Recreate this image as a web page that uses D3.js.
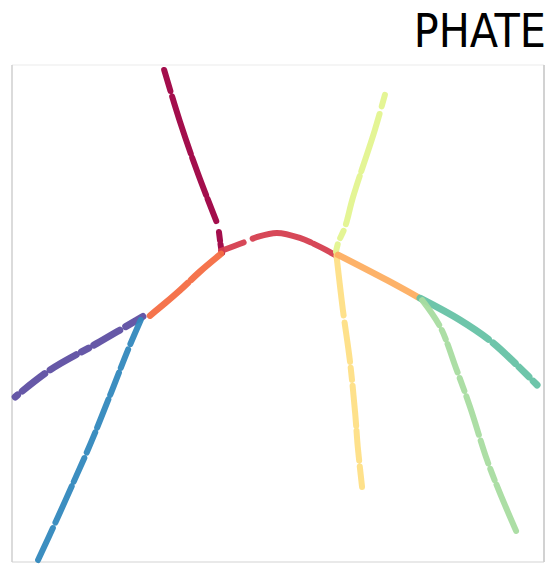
<!DOCTYPE html>
<html>
<head>
<meta charset="utf-8">
<script src="https://cdn.jsdelivr.net/npm/d3@7"></script>
<style>
  body { margin: 0; background: #fff; }
  svg { display: block; }
</style>
</head>
<body>
<div id="chart"></div>
<script>
/* CONSTANTS AND GLOBALS */
const width = 546,
  height = 565,
  plot = { left: 12, right: 544, top: 65, bottom: 562 };

// branch knots, PHATE coords rescaled to 0..100
const crimson = [[28.6, 99.0], [31.6, 88.5], [35.0, 78.0], [38.4, 68.6]];
const crimsonStub = [[38.9, 66.4], [39.3, 63.2], [39.5, 62.2]];
const red = [[39.3, 62.6], [43.8, 64.4], [46.1, 65.4], [49.8, 66.2], [54.1, 65.2], [57.9, 63.4], [60.7, 61.8]];
const orange = [[39.3, 62.0], [35.3, 58.4], [31.6, 54.7], [28.8, 52.1], [25.4, 49.1]];
const purple = [[24.6, 49.4], [16.5, 44.3], [7.1, 38.6], [0.6, 33.2]];
const blue = [[24.2, 48.7], [21.8, 42.7], [18.6, 34.0], [14.8, 23.9], [11.5, 15.9], [8.4, 8.5], [4.9, 0.4]];
const limeGreen = [[70.1, 94.0], [68.2, 86.9], [64.1, 73.4], [62.6, 67.4], [61.3, 64.2], [60.9, 62.4]];
const yellow = [[61.0, 61.6], [62.2, 50.7], [63.5, 40.6], [64.5, 30.0], [65.0, 23.1], [65.8, 15.1]];
const lightOrange = [[61.3, 61.8], [70.5, 56.7], [76.3, 53.3]];
const teal = [[76.7, 53.1], [84.2, 48.7], [90.4, 44.1], [98.7, 35.6]];
const lightGreen = [[77.1, 52.7], [80.5, 47.3], [83.6, 38.6], [86.1, 31.2], [89.3, 20.5], [91.7, 13.9], [95.5, 4.4]];

const branches = [
  { name: "crimson", pts: crimson, color: "#9e0142", w: 6, dash: "22,6,60,4,40,4,30,4,40" },
  { name: "crimsonStub", pts: crimsonStub, color: "#9e0142", w: 6, dash: "9,3,40" },
  { name: "red", pts: red, color: "#d53e4f", w: 6, dash: "24,10,60,3,50" },
  { name: "orange", pts: orange, color: "#f46d43", w: 6.5, dash: "40,4,50,6,20" },
  { name: "purple", pts: purple, color: "#5e4fa2", w: 7, dash: "20,7,30,6,8,6,30,7,28,6,8,6,40" },
  { name: "blue", pts: blue, color: "#3288bd", w: 6, dash: "26,6,20,5,24,5,30,5,22,6,26,5,40,6,60" },
  { name: "lime", pts: limeGreen, color: "#e3f48f", w: 6, dash: "12,8,60,5,50,7,8,7,20" },
  { name: "yellow", pts: yellow, color: "#fedf85", w: 6, dash: "60,7,40,6,12,6,40,5,30,6,30" },
  { name: "lightOrange", pts: lightOrange, color: "#fdae61", w: 6.5, dash: "90" },
  { name: "teal", pts: teal, color: "#66c2a5", w: 7, dash: "80,6,30,5,14,6,20,6,10" },
  { name: "lightGreen", pts: lightGreen, color: "#a8dca0", w: 6, dash: "30,6,10,5,30,6,14,6,40,6,24,6,12,5,50" }
];

const title = "PHATE";

/* SCALES */
const xScale = d3.scaleLinear().domain([0, 100]).range([plot.left, plot.right]);
const yScale = d3.scaleLinear().domain([0, 100]).range([plot.bottom, plot.top]);

const svg = d3.select("#chart")
  .append("svg")
  .attr("width", width)
  .attr("height", height);

// frame (faint matplotlib-ish spines)
svg.append("line")
  .attr("x1", plot.left).attr("x2", plot.right)
  .attr("y1", plot.top).attr("y2", plot.top)
  .attr("stroke", "#f2f2f2").attr("stroke-width", 1.5);
svg.append("line")
  .attr("x1", plot.left).attr("x2", plot.right)
  .attr("y1", plot.bottom).attr("y2", plot.bottom)
  .attr("stroke", "#e2e2e2").attr("stroke-width", 1.5);
svg.append("line")
  .attr("x1", plot.left).attr("x2", plot.left)
  .attr("y1", plot.top).attr("y2", plot.bottom)
  .attr("stroke", "#cfcfcf").attr("stroke-width", 1.5);
svg.append("line")
  .attr("x1", plot.right).attr("x2", plot.right)
  .attr("y1", plot.top).attr("y2", plot.bottom)
  .attr("stroke", "#d2d2d2").attr("stroke-width", 2);

const lineFunc = d3.line()
  .x(d => xScale(d[0]))
  .y(d => yScale(d[1]))
  .curve(d3.curveCatmullRom.alpha(0.5));

svg.append("g")
  .attr("class", "branches")
  .selectAll("path")
  .data(branches)
  .join("path")
  .attr("d", d => lineFunc(d.pts))
  .attr("fill", "none")
  .attr("stroke", d => d.color)
  .attr("stroke-width", d => d.w)
  .attr("stroke-linecap", "round")
  .attr("stroke-linejoin", "round")
  .attr("stroke-dasharray", d => d.dash)
  .attr("opacity", 0.95);

svg.append("text")
  .attr("x", 546)
  .attr("y", 47)
  .attr("text-anchor", "end")
  .attr("font-family", "'DejaVu Sans Condensed', 'DejaVu Sans', sans-serif")
  .attr("font-size", 46)
  .attr("fill", "#000")
  .text(title);
</script>
</body>
</html>
